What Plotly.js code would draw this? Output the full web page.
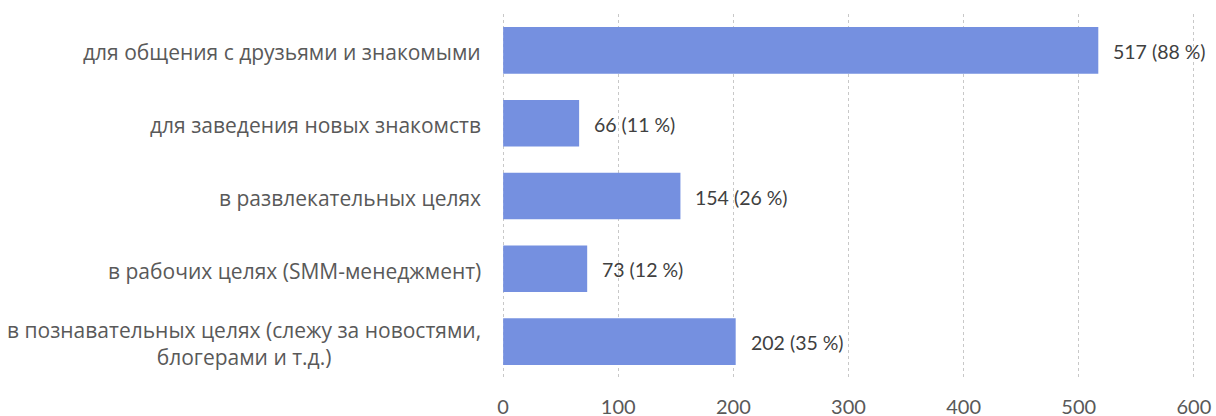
<!DOCTYPE html>
<html>
<head>
<meta charset="utf-8">
<script src="https://cdn.plot.ly/plotly-3.0.1.min.js"></script>
<style>html,body{margin:0;padding:0;background:#fff;}#chart{width:1216px;height:416px;}</style>
</head>
<body>
<div id="chart"></div>
<script>
const categories = [
  "для общения с друзьями и знакомыми",
  "для заведения новых знакомств",
  "в развлекательных целях",
  "в рабочих целях (SMM-менеджмент)",
  "в познавательных целях (слежу за новостями,<br>блогерами и т.д.)"
];
const counts = [517, 66, 154, 73, 202];
const percents = [88, 11, 26, 12, 35];
const xTickValues = [0, 100, 200, 300, 400, 500, 600];

const FONT = "Lato, 'Open Sans', sans-serif";
const CAT_FONT = "'Open Sans', sans-serif";

const labels = counts.map((c, i) => c + " (" + percents[i] + " %)");

const trace = {
  type: "bar",
  orientation: "h",
  x: counts,
  y: categories,
  marker: {color: "#7590e0"},
  hoverinfo: "skip"
};

const annotations = [];
categories.forEach((cat, i) => {
  annotations.push({
    x: counts[i], y: cat, xref: "x", yref: "y",
    text: labels[i], showarrow: false, xanchor: "left", xshift: 13, yshift: -1,
    font: {family: FONT, size: 19.5, color: "#404040"}
  });
  annotations.push({
    x: 0, y: cat, xref: "paper", yref: "y",
    text: cat, showarrow: false, xanchor: "right", xshift: -19, yshift: -2, align: "center",
    font: {family: CAT_FONT, size: 21, color: "#595959"}
  });
});

const layout = {
  width: 1216, height: 416,
  margin: {l: 502, r: 21, t: 14, b: 38},
  paper_bgcolor: "#fff", plot_bgcolor: "#fff",
  showlegend: false,
  bargap: 0.36,
  xaxis: {
    range: [-1, 601], tickvals: xTickValues, ticktext: xTickValues.map(String),
    showgrid: true, gridcolor: "#c8c8c8", griddash: "dot", gridwidth: 1,
    zeroline: false, showline: false, ticks: "",
    ticklabelstandoff: 15,
    tickfont: {family: FONT, size: 20, color: "#595959"}
  },
  yaxis: {
    type: "category", autorange: "reversed",
    showticklabels: false, showgrid: false, zeroline: false, showline: false, ticks: ""
  },
  annotations: annotations
};

Plotly.newPlot("chart", [trace], layout, {staticPlot: true, displayModeBar: false});
</script>
</body>
</html>
